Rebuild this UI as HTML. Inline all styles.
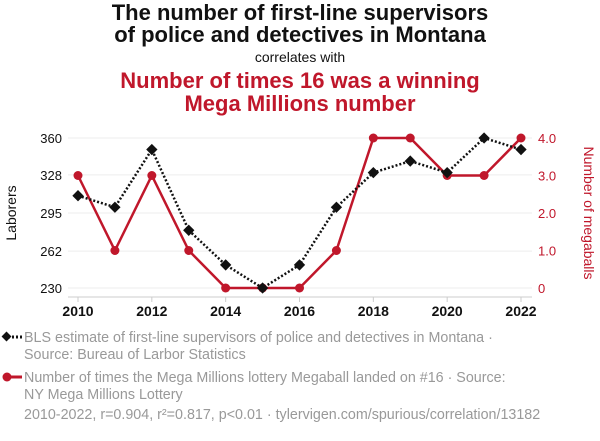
<!DOCTYPE html>
<html><head><meta charset="utf-8"><style>
body{margin:0;width:600px;height:436px;background:#fff;font-family:"Liberation Sans",sans-serif;overflow:hidden}
svg text{font-family:"Liberation Sans",sans-serif}
</style></head><body>
<svg width="600" height="436">
<text x="300" y="20" text-anchor="middle" font-size="22" font-weight="bold" fill="#111">The number of first-line supervisors</text>
<text x="300" y="42" text-anchor="middle" font-size="22" font-weight="bold" fill="#111">of police and detectives in Montana</text>
<text x="300" y="62" text-anchor="middle" font-size="14" fill="#111">correlates with</text>
<text x="300" y="88" text-anchor="middle" font-size="22" font-weight="bold" fill="#c0172b">Number of times 16 was a winning</text>
<text x="300" y="111" text-anchor="middle" font-size="22" font-weight="bold" fill="#c0172b">Mega Millions number</text>
<g id="grid"></g><g id="axes"></g><g id="marks"></g>
<text transform="translate(16,213) rotate(-90)" text-anchor="middle" font-size="14" fill="#111">Laborers</text>
<text transform="translate(584,213) rotate(90)" text-anchor="middle" font-size="14" fill="#c0172b">Number of megaballs</text>
<g>
<line x1="4" y1="337" x2="22" y2="337" stroke="#111" stroke-width="3" stroke-dasharray="2,2"/>
<rect x="3" y="333" width="7" height="7" fill="#111" transform="rotate(45 6.5 336.5)"/>
<text x="24" y="342" font-size="14.3" fill="#999">BLS estimate of first-line supervisors of police and detectives in Montana ·</text>
<text x="24" y="359" font-size="14.3" fill="#999">Source: Bureau of Larbor Statistics</text>
</g>
<g>
<line x1="4" y1="377" x2="22" y2="377" stroke="#c0172b" stroke-width="3"/>
<circle cx="7" cy="377" r="4.5" fill="#c0172b"/>
<text x="24" y="382" font-size="14.3" fill="#999">Number of times the Mega Millions lottery Megaball landed on #16 · Source:</text>
<text x="24" y="399" font-size="14.3" fill="#999">NY Mega Millions Lottery</text>
</g>
<text x="24" y="419" font-size="14.3" fill="#999">2010-2022, r=0.904, r²=0.817, p&lt;0.01 · tylervigen.com/spurious/correlation/13182</text>
</svg>
<script>
const years=[2010,2011,2012,2013,2014,2015,2016,2017,2018,2019,2020,2021,2022];
const supervisors=[310,300,350,280,250,230,250,300,330,340,330,360,350];
const megaballs=[3,1,3,1,0,0,0,1,4,4,3,3,4];
const leftTicks=[230,262,295,328,360];
const rightTicks=[0,1,2,3,4];
const xTicks=[2010,2012,2014,2016,2018,2020,2022];
const NS='http://www.w3.org/2000/svg';
const x=v=>78+(v-2010)*(521-78)/12;
const yl=v=>288-(v-230)/130*150;
const yr=v=>288-v/4*150;
function mk(p,t,a){const e=document.createElementNS(NS,t);for(const k in a)e.setAttribute(k,a[k]);document.getElementById(p).appendChild(e);return e;}
leftTicks.forEach(t=>{
 const g=mk('grid','line',{x1:68,x2:532,y1:yl(t),y2:yl(t),stroke:'#eee'});
 
 
 const l=mk('axes','text',{x:62,y:yl(t)+5,'text-anchor':'end','font-size':13,fill:'#111'});l.textContent=t;
 
 
});
rightTicks.forEach(t=>{
 const l=mk('axes','text',{x:538,y:yr(t)+5,'font-size':13,fill:'#c0172b'});l.textContent=t===0?'0':t.toFixed(1);
 
 
});
const ax=mk('axes','line',{x1:68,x2:532,y1:297,y2:297,stroke:'#ccc'});


xTicks.forEach(t=>{
 mk('axes','line',{x1:x(t),x2:x(t),y1:297,y2:302,stroke:'#ccc'});
 const l=mk('axes','text',{x:x(t),y:316,'text-anchor':'middle','font-size':14,'font-weight':'bold',fill:'#111'});l.textContent=t;
 
 
});
const rp=mk('marks','polyline',{points:years.map((y,i)=>x(y)+','+yr(megaballs[i])).join(' '),fill:'none',stroke:'#c0172b','stroke-width':2.5});


years.forEach((y,i)=>{
 const c=mk('marks','circle',{cx:x(y),cy:yr(megaballs[i]),r:4.5,fill:'#c0172b'});
 
 
});
const bp=mk('marks','polyline',{points:years.map((y,i)=>x(y)+','+yl(supervisors[i])).join(' '),fill:'none',stroke:'#111','stroke-width':2.5,'stroke-dasharray':'2,2'});


years.forEach((y,i)=>{
 const cx=x(y),cy=yl(supervisors[i]);
 const d=mk('marks','rect',{x:cx-4,y:cy-4,width:8,height:8,fill:'#111',transform:`rotate(45 ${cx} ${cy})`});
 
 
});
</script>
</body></html>
